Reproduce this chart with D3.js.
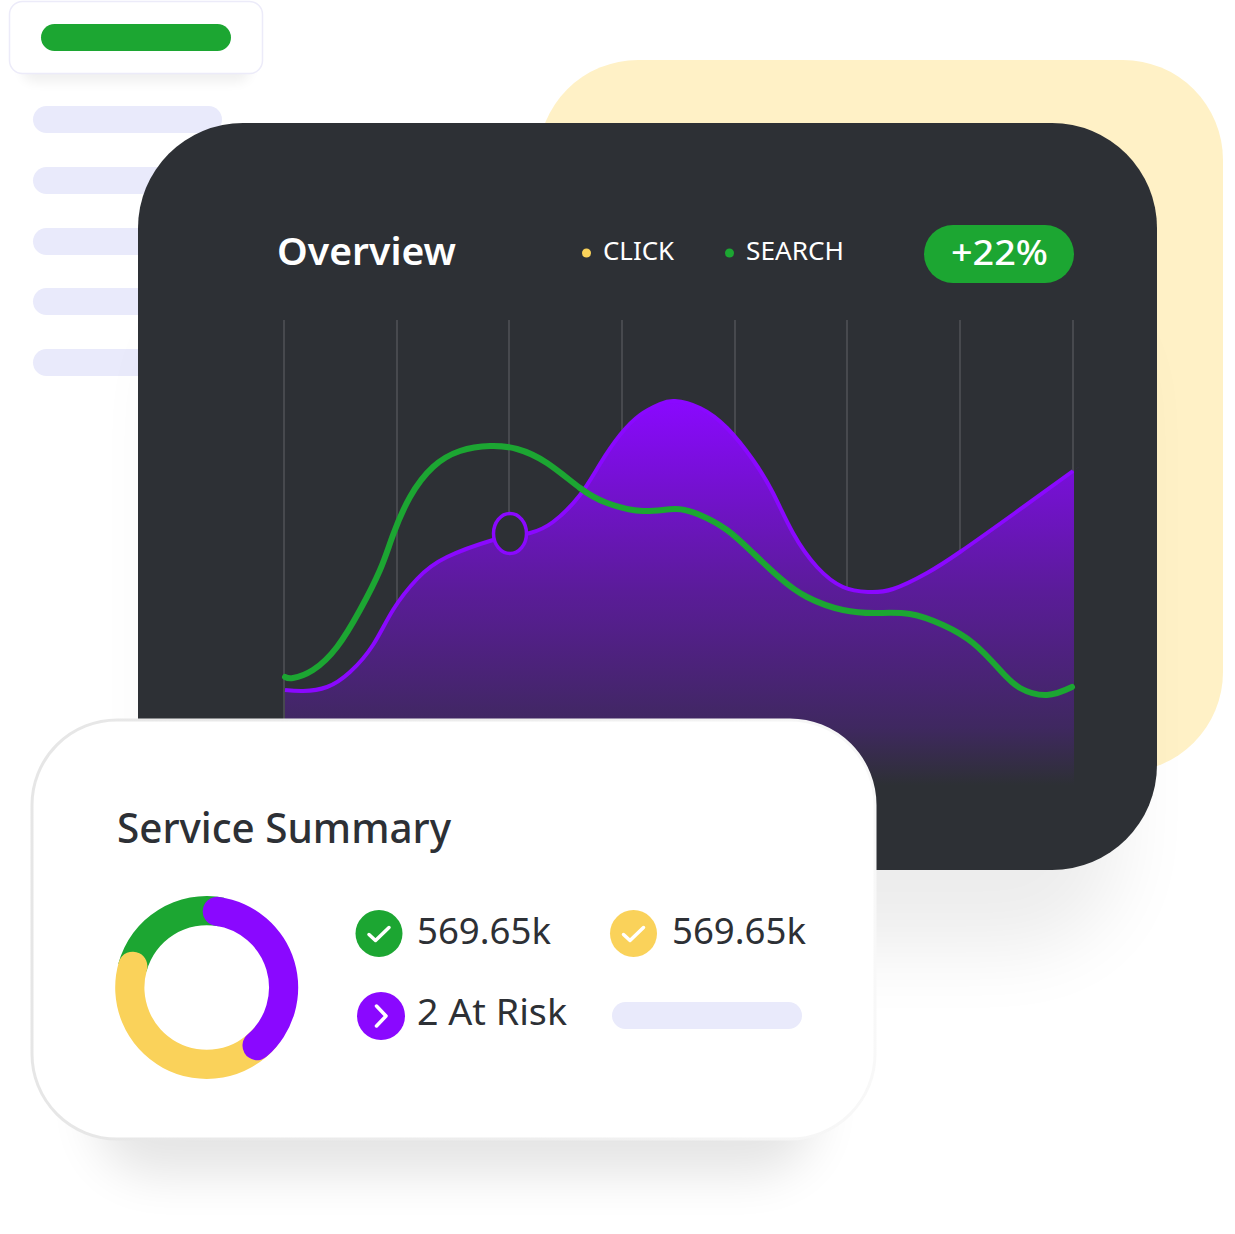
<!DOCTYPE html>
<html><head><meta charset="utf-8">
<style>html,body{margin:0;padding:0;background:#fff}svg{display:block}text{font-family:"Noto Sans",sans-serif}</style>
<script src="https://cdn.jsdelivr.net/npm/d3@7"></script></head><body>
<svg id="c" width="1235" height="1234"></svg>
<script>
// Chart data
const gridTicks=[0,113,225,338,451,563,676,789];
const clickX=[1,19,43,66,89,109,133,163,209,226,246,269,296,316,336,356,376,391,416,443,469,489,509,533,559,584,609,643,676,731,789];
const clickY=[95,94,98,113,140,175,206,228,245,248.5,252,263,290,321,350,370,381,384,377,357,325,292,252,218,198,193,196,212,233,272,314];
const searchX=[1,9,29,53,76,96,109,126,149,176,206,233,263,296,323,359,391,416,443,469,496,523,559,593,626,659,689,716,736,763,788];
const searchY=[108,107,115,138,175,215,250,288,318,334,339,336,322,297,282,274,276,270,255,232,207,188,175,172,171,160,142,115,97,90,98];
const markerIndex=9;
const donutLabels=["purple","yellow","green"];
const donutValues=[153,147,60];
const legend=["CLICK","SEARCH"];
const badge="+22%";
const summary=["569.65k","569.65k","2 At Risk"];

const GREEN="#1ca632",YELLOW="#fad25a",PURPLE="#8a08ff",DARK="#2d3035",LAV="#e9eafb";
const svg=d3.select("#c");
const defs=svg.append("defs");
function blur(id,sd){
  defs.append("filter").attr("id",id).attr("x","-40%").attr("y","-40%").attr("width","180%").attr("height","180%")
    .attr("color-interpolation-filters","sRGB").append("feGaussianBlur").attr("stdDeviation",sd);
}
blur("b40",38);blur("b25",24);blur("b7",6);
const g=defs.append("linearGradient").attr("id","areaG").attr("gradientUnits","userSpaceOnUse").attr("x1",0).attr("x2",0).attr("y1",400).attr("y2",785);
g.append("stop").attr("offset",0).attr("stop-color",PURPLE);
g.append("stop").attr("offset",0.5).attr("stop-color","#5a1c98");
g.append("stop").attr("offset",0.85).attr("stop-color","#3f2860");
g.append("stop").attr("offset",1).attr("stop-color",DARK);
const bg=defs.append("linearGradient").attr("id","cardStroke").attr("x1",0).attr("x2",1).attr("y1",0).attr("y2",0);
bg.append("stop").attr("offset",0).attr("stop-color","#e6e6e6");
bg.append("stop").attr("offset",0.6).attr("stop-color","#eeeeee");
bg.append("stop").attr("offset",1).attr("stop-color","#f8f8f8");

function rr(x,y,w,h,r,fill){return svg.append("rect").attr("x",x).attr("y",y).attr("width",w).attr("height",h).attr("rx",r).attr("ry",r).attr("fill",fill);}
function txt(s,x,y,size,weight,fill,len){
  const t=svg.append("text").attr("x",x).attr("y",y).attr("font-size",size).attr("font-weight",weight).attr("fill",fill).text(s);
  if(len)t.attr("textLength",len).attr("lengthAdjust","spacingAndGlyphs");
  return t;
}

// Top-left decoration
rr(22,30,228,52,13,"#000").attr("opacity",0.06).attr("filter","url(#b7)");
rr(9.5,1.5,253,72,13,"#fff").attr("stroke","#ecebf9").attr("stroke-width",1.5);
rr(41,24,190,27,13.5,GREEN);
[106,167,228,288,349].forEach(y=>rr(33,y,189,27,13.5,LAV));

// Background panels
rr(538,60,685,712,100,"#fff1c6");
rr(170,300,950,650,100,"#000").attr("opacity",0.07).attr("filter","url(#b40)");
rr(138,123,1019,747,105,DARK);

// Header
txt("Overview",277,265,37,600,"#fff",179);
svg.append("circle").attr("cx",586.5).attr("cy",253).attr("r",4.5).attr("fill",YELLOW);
txt(legend[0],603,260,26,400,"#fff",71);
svg.append("circle").attr("cx",729.5).attr("cy",253).attr("r",4.5).attr("fill",GREEN);
txt(legend[1],746,260,26,400,"#fff",98);
rr(924,225,150,58,29,GREEN);
txt(badge,951,265,35,500,"#fff",97);

// Chart
const x=d3.scaleLinear().domain([0,789]).range([284,1073]);
const y=d3.scaleLinear().domain([0,465]).range([785,320]);
svg.append("g").selectAll("line").data(gridTicks).join("line")
  .attr("x1",d=>x(d)).attr("x2",d=>x(d)).attr("y1",y(465)).attr("y2",y(0))
  .attr("stroke","#47494e").attr("stroke-width",2);
const click=clickX.map((d,i)=>[d,clickY[i]]);
const search=searchX.map((d,i)=>[d,searchY[i]]);
const curve=d3.curveNatural;
const areaPts=click.concat([[clickX[clickX.length-1]+1,clickY[clickY.length-1]+0.7]]);
svg.append("path").attr("d",d3.area().x(d=>x(d[0])).y0(y(0)).y1(d=>y(d[1])).curve(curve)(areaPts)).attr("fill","url(#areaG)");
svg.append("path").attr("d",d3.line().x(d=>x(d[0])).y(d=>y(d[1])).curve(curve)(click)).attr("fill","none").attr("stroke",PURPLE).attr("stroke-width",4);
svg.append("path").attr("d",d3.line().x(d=>x(d[0])).y(d=>y(d[1])).curve(curve)(search)).attr("fill","none").attr("stroke",GREEN).attr("stroke-width",6).attr("stroke-linecap","round");
svg.append("ellipse").attr("cx",x(click[markerIndex][0])).attr("cy",y(click[markerIndex][1])-3).attr("rx",16.5).attr("ry",20)
  .attr("fill",DARK).attr("stroke",PURPLE).attr("stroke-width",3.5);

// Summary card
rr(95,1040,720,135,60,"#000").attr("opacity",0.1).attr("filter","url(#b25)");
rr(32,720,843,419,85,"#fff").attr("stroke","url(#cardStroke)").attr("stroke-width",3);
txt("Service Summary",117,843,41,500,DARK,334);

// Donut
const pie=d3.pie().sort(null).value(d=>d).startAngle(-3*Math.PI/180).endAngle(357*Math.PI/180)(donutValues);
const R=91.5,r0=62.3,deg=Math.PI/180;
const arc=d3.arc().innerRadius(r0).outerRadius(R);
const dg=svg.append("g").attr("transform","translate(206.7,987.5)");
dg.append("path").attr("d",arc({startAngle:pie[2].startAngle-12*deg,endAngle:pie[2].endAngle+14*deg})).attr("fill",GREEN);
dg.append("path").attr("d",arc.cornerRadius(14.6)({startAngle:pie[1].startAngle-30*deg,endAngle:pie[1].endAngle})).attr("fill",YELLOW);
dg.append("path").attr("d",arc.cornerRadius(14.6)({startAngle:pie[0].startAngle,endAngle:pie[0].endAngle})).attr("fill",PURPLE);

// Summary rows
function check(cx,cy,r,color){
  svg.append("circle").attr("cx",cx).attr("cy",cy).attr("r",r).attr("fill",color);
  const p=d3.path();p.moveTo(cx-10,cy+1);p.lineTo(cx-3.5,cy+7);p.lineTo(cx+10,cy-6);
  svg.append("path").attr("d",p.toString()).attr("fill","none").attr("stroke","#fff").attr("stroke-width",3.5).attr("stroke-linecap","round").attr("stroke-linejoin","round");
}
check(379,933.5,23.5,GREEN);
check(633.5,933.5,23.5,YELLOW);
txt(summary[0],417,944,37,400,DARK,134);
txt(summary[1],672,944,37,400,DARK,134);
svg.append("circle").attr("cx",381).attr("cy",1016).attr("r",24).attr("fill",PURPLE);
const ap=d3.path();ap.moveTo(376.5,1006);ap.lineTo(386,1016);ap.lineTo(376.5,1026);
svg.append("path").attr("d",ap.toString()).attr("fill","none").attr("stroke","#fff").attr("stroke-width",3.5).attr("stroke-linecap","round").attr("stroke-linejoin","round");
txt(summary[2],417,1025,37,400,DARK,150);
rr(612,1002,190,27,13.5,LAV);
</script></body></html>
